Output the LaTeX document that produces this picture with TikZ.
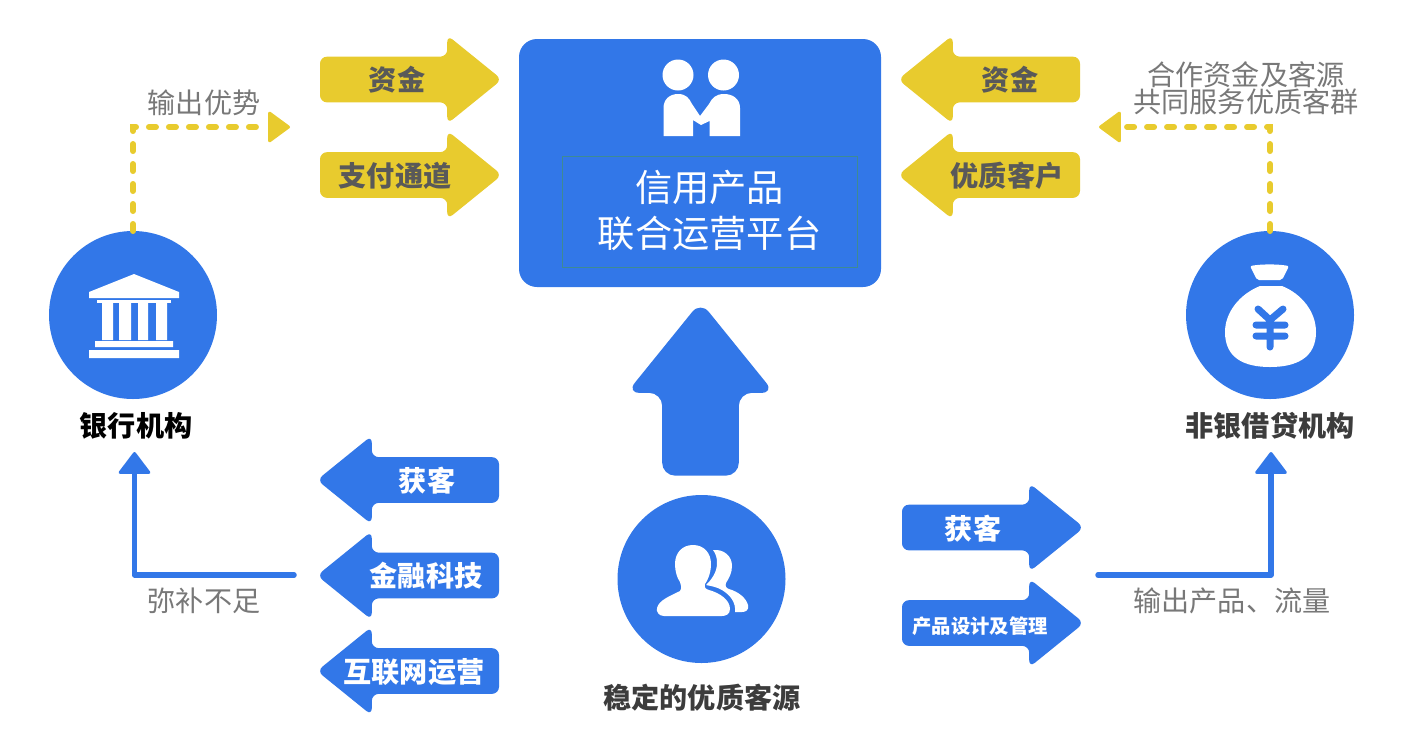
\documentclass[tikz,border=0pt]{standalone}
\usepackage{fontspec}
\setmainfont{Noto Sans CJK SC}
\usetikzlibrary{arrows.meta, shapes.arrows, positioning}
\definecolor{planblue}{RGB}{50,119,232}
\definecolor{planyellow}{RGB}{232,203,46}
\definecolor{plangray}{RGB}{120,120,120}
\definecolor{plandark}{RGB}{60,60,60}
\definecolor{planteal}{RGB}{62,138,148}
\newlength\pxu
\setlength\pxu{0.02cm}
\begin{document}
\begin{tikzpicture}[x=0.02cm, y=-0.02cm]
	\tikzset{%
		flowarrow/.style={single arrow, single arrow head extend=21.5\pxu, single arrow tip angle=78, minimum height=182\pxu, inner xsep=0pt, inner ysep=22.5\pxu, outer sep=0pt, rounded corners=7\pxu},
		yellowright/.style={flowarrow, fill=planyellow, anchor=tail},
		yellowleft/.style={flowarrow, fill=planyellow, shape border rotate=180, anchor=tail},
		blueright/.style={flowarrow, fill=planblue, anchor=tail},
		blueleft/.style={flowarrow, fill=planblue, shape border rotate=180, anchor=tail},
		yellowtext/.style={font=\fontsize{16}{16}\selectfont\bfseries, text=plandark!85, inner sep=0pt},
		bluetext/.style={font=\fontsize{16}{16}\selectfont\bfseries, text=white, inner sep=0pt},
		graytext/.style={font=\fontsize{16}{15.4}\selectfont, text=plangray, align=center, inner sep=0pt},
		nametext/.style={font=\fontsize{16}{16}\selectfont\bfseries, text=plandark, inner sep=0pt},
		roundnode/.style={circle, fill=planblue, minimum size=168\pxu, inner sep=0pt, outer sep=0pt},
		dashline/.style={draw=planyellow, line width=0.12cm, line cap=round, dash pattern=on 0.14cm off 0.26cm, -{Triangle[length=0.46cm, width=0.66cm, round, line width=0.06cm]}},
		blueline/.style={draw=planblue, line width=0.11cm, line cap=round, line join=round, -{Triangle[length=0.46cm, width=0.68cm, round, line width=0.06cm]}}
	}
	\useasboundingbox (0,0) rectangle (1406,745);
	% platform
	\node[fill=planblue, rounded corners=18\pxu, minimum width=362\pxu, minimum height=248\pxu, inner sep=0pt] (platform) at (700,163) {};
	\node[draw=planteal, line width=1\pxu, minimum width=295\pxu, minimum height=111\pxu, inner sep=0pt] (platformbox) at (709.5,211.5) {};
	\node[font=\fontsize{21.2}{26.4}\selectfont, text=white, align=center, inner sep=0pt] (platformtext) at (709.5,210.5) {信用产品\\联合运营平台};
	% handshake
	\fill[white] (678,75) circle (15.5) (723.5,75) circle (15.5);
	\fill[white] (663.5,136) -- (663.5,108) .. controls (663.5,99) and (670,94) .. (678,94) .. controls (686,94) and (689,98) .. (692,104) -- (700,116) -- (709,104) .. controls (712,98) and (716,94) .. (724,94) .. controls (733,94) and (740,99) .. (740,108) -- (740,136) -- (709.5,136) -- (709.5,121) -- (701,125) -- (693,120) -- (693,136) -- cycle;
	% side arrows
	\node[yellowright] (fundleft) at (320,79.5) {};
	\node[yellowright] (payleft) at (320,175) {};
	\node[yellowleft] (fundright) at (1080,79.5) {};
	\node[yellowleft] (custright) at (1080,175) {};
	\node[yellowtext] (fundlefttext) at (397,80) {资金};
	\node[yellowtext] (paylefttext) at (395,175.5) {支付通道};
	\node[yellowtext] (fundrighttext) at (1010,80) {资金};
	\node[yellowtext] (custrighttext) at (1007,176) {优质客户};
	\node[blueleft] (gainleft) at (499,480) {};
	\node[blueleft] (techleft) at (499,575.5) {};
	\node[blueleft] (webleft) at (499,671) {};
	\node[bluetext] (gainlefttext) at (427,481) {获客};
	\node[bluetext] (techlefttext) at (426,576) {金融科技};
	\node[bluetext] (weblefttext) at (414,672) {互联网运营};
	\node[blueright] (gainright) at (902,527.5) {};
	\node[blueright] (designright) at (902,623) {};
	\node[bluetext] (gainrighttext) at (973,529) {获客};
	\node[bluetext, font=\fontsize{11}{11}\selectfont\bfseries] (designrighttext) at (980,626) {产品设计及管理};
	% big arrow
	\node[single arrow, fill=planblue, single arrow head extend=35.5\pxu, single arrow tip angle=78, minimum height=174\pxu, inner sep=38\pxu, rounded corners=13\pxu, shape border rotate=90, anchor=tail] (bigup) at (700.5,476) {};
	% bank
	\node[roundnode] (bank) at (133,315) {};
	\node[nametext, text=black] (banktext) at (136,426) {银行机构};
	\fill[white] (134,274) -- (179,292) -- (179,298) -- (89,298) -- (89,292) -- cycle;
	\fill[white] (97,300) rectangle (171,303);
	\fill[white] (102,303) rectangle (113,340) (119,303) rectangle (131,340) (138,303) rectangle (148,340) (156,303) rectangle (167,340);
	\fill[white] (95,341) rectangle (173,347) (89,350) rectangle (179,358);
	% money bag
	\node[roundnode] (lender) at (1270,315) {};
	\node[nametext] (lendertext) at (1270,426) {非银借贷机构};
	\fill[white, rounded corners=2\pxu] (1250,266) .. controls (1262,264) and (1277,264) .. (1289,266) -- (1282,280) -- (1257,280) -- cycle;
	\fill[white] (1260,286) -- (1282,286) .. controls (1302,294) and (1316,312) .. (1316,332) .. controls (1316,358) and (1296,367) .. (1270,367) .. controls (1244,367) and (1225,358) .. (1225,332) .. controls (1225,312) and (1240,294) .. (1260,286) -- cycle;
	\draw[planblue, line width=7\pxu, line cap=round, line join=round] (1258,309) -- (1270,320) -- (1283,309) (1270,320) -- (1270,347) (1256,325) -- (1285,325) (1256,336) -- (1285,336);
	% people
	\node[roundnode] (client) at (701.5,579) {};
	\node[nametext] (clienttext) at (702,698) {稳定的优质客源};
	\fill[white] (693,545) .. controls (704,545) and (711,553) .. (711,564) .. controls (711,574) and (707,581) .. (705,584) .. controls (704,588) and (706,589) .. (709,590) .. controls (720,593) and (730,600) .. (730,609) .. controls (730,614) and (726,616) .. (722,616) -- (664,616) .. controls (659,616) and (656,612) .. (657,608) .. controls (659,600) and (670,596) .. (680,591) .. controls (682,588) and (681,585) .. (680,582) .. controls (677,578) and (675,571) .. (675,564) .. controls (675,553) and (682,545) .. (693,545) -- cycle;
	\fill[white] (713,550) .. controls (724,549) and (732,556) .. (732,566) .. controls (732,573) and (729,578) .. (726,583) .. controls (725,586) and (726,588) .. (729,589) .. controls (739,592) and (746,598) .. (748,605) .. controls (749,610) and (746,612) .. (742,612) -- (735,612) .. controls (736,602) and (730,595) .. (722,590) .. controls (717,587) and (711,586) .. (706,585) .. controls (711,580) and (717,573) .. (717,563) .. controls (717,558) and (716,554) .. (713,550) -- cycle;
	% connectors
	\coordinate (bankout) at (290,127);
	\coordinate (lenderout) at (1099,127);
	\coordinate (bankin) at (134.5,452);
	\coordinate (lenderin) at (1271,452);
	\coordinate (techout) at (294,575);
	\coordinate (gainout) at (1098,575);
	\draw[dashline] (bank.north) |- (bankout);
	\draw[dashline] (lender.north) |- (lenderout);
	\draw[blueline] (techout) -| (bankin);
	\draw[blueline] (gainout) -| (lenderin);
	\node[graytext] (banklabel) at (204,103) {输出优势};
	\node[graytext] (lenderlabel) at (1246,88.5) {合作资金及客源\\共同服务优质客群};
	\node[graytext] (techlabel) at (204,601) {弥补不足};
	\node[graytext] (gainlabel) at (1232,601) {输出产品、流量};
\end{tikzpicture}
\end{document}
